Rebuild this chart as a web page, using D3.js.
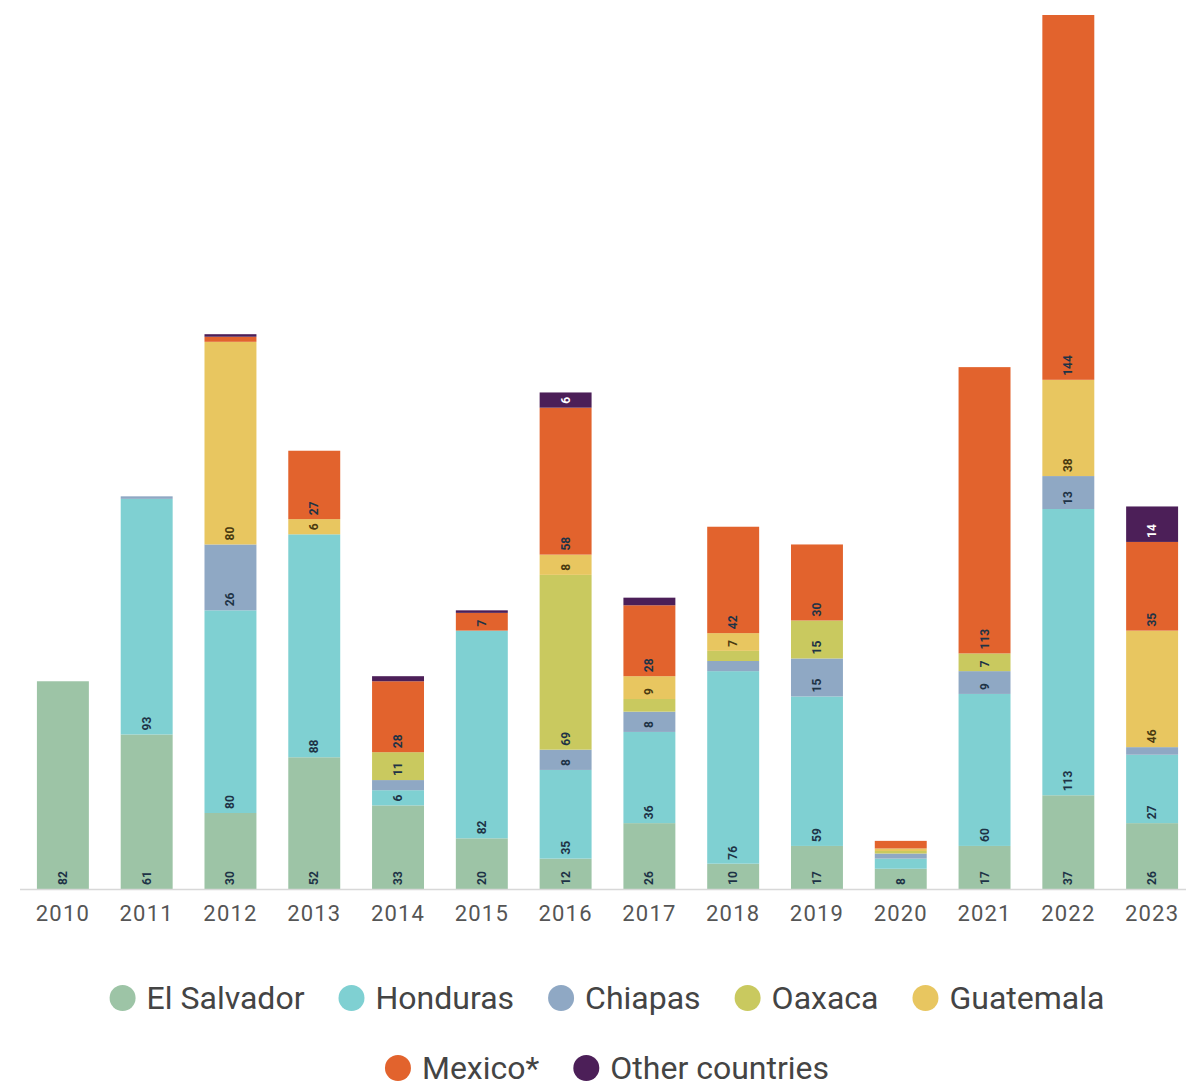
<!DOCTYPE html>
<html>
<head>
<meta charset="utf-8">
<script src="https://cdn.jsdelivr.net/npm/d3@7"></script>
<style>
  html, body { margin: 0; padding: 0; background: #ffffff; }
  svg { display: block; font-family: Roboto, "Noto Sans", sans-serif; }
</style>
</head>
<body>
<svg id="chart" width="1186" height="1086"></svg>
<script>
// Years on the x axis
const years = ["2010","2011","2012","2013","2014","2015","2016","2017","2018","2019","2020","2021","2022","2023"];

// Series, stacked bottom to top
const series = ["El Salvador","Honduras","Chiapas","Oaxaca","Guatemala","Mexico*","Other countries"];
const colors = ["#9dc4a6","#7fd0d2","#8fa8c4","#c9c95f","#e8c660","#e2632d","#4c1f58"];

const elSalvador = [82, 61, 30, 52, 33, 20, 12, 26, 10, 17, 8, 17, 37, 26];
const honduras   = [0, 93, 80, 88, 6, 82, 35, 36, 76, 59, 4, 60, 113, 27];
const chiapas    = [0, 1, 26, 0, 4, 0, 8, 8, 4, 15, 2, 9, 13, 3];
const oaxaca     = [0, 0, 0, 0, 11, 0, 69, 5, 4, 15, 1, 7, 0, 0];
const guatemala  = [0, 0, 80, 6, 0, 0, 8, 9, 7, 0, 1, 0, 38, 46];
const mexico     = [0, 0, 2, 27, 28, 7, 58, 28, 42, 30, 3, 113, 144, 35];
const other      = [0, 0, 1, 0, 2, 1, 6, 3, 0, 0, 0, 0, 0, 14];

const valueRows = [elSalvador, honduras, chiapas, oaxaca, guatemala, mexico, other];

// Smallest segment that still gets a value label
const minLabelValue = 6;

const table = years.map((y, i) => {
  const row = { year: y };
  series.forEach((s, k) => { row[s] = valueRows[k][i]; });
  return row;
});

const svg = d3.select("#chart");
const baseY = 889, topY = 15;

const x = d3.scaleBand()
  .domain(years)
  .range([21, 1194])
  .paddingInner(0.38)
  .paddingOuter(0.19);

const stack = d3.stack().keys(series);
const stacked = stack(table);
const maxTotal = d3.max(stacked[stacked.length - 1], d => d[1]);

const y = d3.scaleLinear().domain([0, maxTotal]).range([baseY, topY]);

const color = d3.scaleOrdinal().domain(series).range(colors);

// Bars
const layers = svg.append("g").selectAll("g")
  .data(stacked)
  .join("g")
  .attr("fill", d => color(d.key));

layers.selectAll("rect")
  .data(d => d.map(p => ({ key: d.key, p })))
  .join("rect")
  .attr("x", d => x(d.p.data.year))
  .attr("width", x.bandwidth())
  .attr("y", d => y(d.p[1]))
  .attr("height", d => Math.max(0, y(d.p[0]) - y(d.p[1])));

// Value labels, rotated, sitting at the bottom of each segment
const labelData = [];
stacked.forEach(layer => {
  layer.forEach(p => {
    const v = p[1] - p[0];
    if (v >= minLabelValue) labelData.push({ key: layer.key, year: p.data.year, v, y0: p[0] });
  });
});

svg.append("g").selectAll("text")
  .data(labelData)
  .join("text")
  .attr("transform", d => `translate(${x(d.year) + x.bandwidth() / 2 + 4},${y(d.y0) - 4}) rotate(-90)`)
  .attr("font-size", 12)
  .attr("font-weight", 700)
  .attr("fill", d => d.key === "Other countries" ? "#ffffff" : (d.key === "Guatemala" ? "#4a3a10" : "#1e3346"))
  .text(d => d.v);

// X axis
const xAxis = svg.append("g")
  .attr("transform", `translate(0,${baseY})`)
  .call(d3.axisBottom(x).tickSize(0).tickPadding(16));
xAxis.select(".domain").attr("stroke", "#d8d8d8").attr("stroke-width", 1.5)
  .attr("d", `M20,0.5H1186`);
xAxis.selectAll("text")
  .attr("font-size", 22)
  .attr("fill", "#555")
  .attr("letter-spacing", 1.2)
  .attr("font-family", "Roboto, sans-serif");

// Legend, two centred rows
const legendRows = [series.slice(0, 5), series.slice(5)];
const legendY = [998, 1068];
const legendCenter = 607;
const itemGap = 34;

legendRows.forEach((row, r) => {
  const g = svg.append("g");
  let cx = 0;
  row.forEach(name => {
    const item = g.append("g").attr("transform", `translate(${cx},0)`);
    item.append("circle").attr("cx", 13).attr("cy", 0).attr("r", 13).attr("fill", color(name));
    const t = item.append("text")
      .attr("x", 37)
      .attr("dy", "0.35em")
      .attr("font-size", 32)
      .attr("fill", "#444")
      .text(name);
    cx += 37 + t.node().getComputedTextLength() + itemGap;
  });
  const total = cx - itemGap;
  g.attr("transform", `translate(${legendCenter - total / 2},${legendY[r]})`);
});
</script>
</body>
</html>
